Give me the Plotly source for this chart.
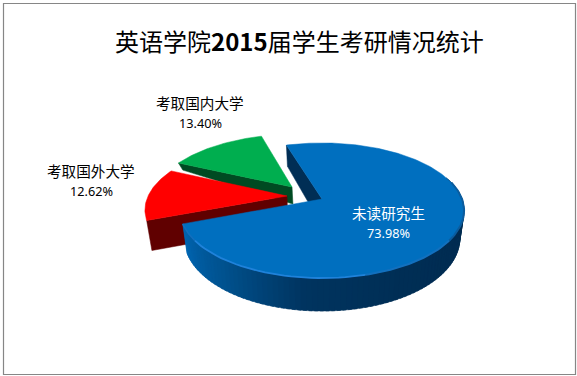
import math
import plotly.graph_objects as go

TITLE_TEXT = "英语学院<b>2015</b>届学生考研情况统计"
categories = ["未读研究生", "考取国外大学", "考取国内大学"]
values = [73.98, 12.62, 13.40]

FIRST_ANGLE = 342.8
CX, CY, RX, KY, P = 322.0, 199.0, 140.0, 65.6, 0.17
TILT_X = 0.97
offsets = [(0.0, 0.0), (-0.252, -0.046), (-0.221, -0.189)]
depth_fn = [(27.0, 6.0), (30.0, 0.0), (21.6, 24.0)]
top_colors = ["#006FBF", "#FF0000", "#00AE4F"]
side_colors = ["#002E55", "#600000", "#004A22"]
CJK = "Noto Sans CJK SC"
LATIN = "Noto Sans"

total = sum(values)
starts, sweeps = [], []
a = FIRST_ANGLE
for v in values:
    starts.append(a)
    sweeps.append(v / total * 360)
    a += v / total * 360


def top_pt(i, X, Y):
    ox, oy = offsets[i]
    X, Y = X + ox, Y + oy
    s = 1 / (1 - P * Y)
    return CX + RX * X * s, CY + KY * Y * s


def rim(i, deg):
    t = math.radians(deg)
    return math.sin(t), -math.cos(t)


def bottom_pt(i, X, Y):
    x, y = top_pt(i, X, Y)
    a0, b0 = depth_fn[i]
    return CX + (x - CX) * TILT_X, y + a0 + b0 * (Y + offsets[i][1])


def mix(c1, c2, f):
    c = [round(c1[k] + (c2[k] - c1[k]) * f) for k in range(3)]
    return f"rgb({c[0]},{c[1]},{c[2]})"


fig = go.Figure()


def poly(pts, color):
    xs = [p[0] for p in pts] + [pts[0][0]]
    ys = [p[1] for p in pts] + [pts[0][1]]
    fig.add_trace(go.Scatter(x=xs, y=ys, mode="lines", fill="toself", fillcolor=color,
                             line=dict(color=color, width=0.5), hoverinfo="skip", showlegend=False))


def top_face(i):
    n = max(8, int(sweeps[i]))
    pts = [top_pt(i, 0, 0)]
    for k in range(n + 1):
        pts.append(top_pt(i, *rim(i, starts[i] + sweeps[i] * k / n)))
    poly(pts, top_colors[i])


def radial_wall(i, deg):
    X, Y = rim(i, deg)
    poly([top_pt(i, 0, 0), top_pt(i, X, Y), bottom_pt(i, X, Y), bottom_pt(i, 0, 0)], side_colors[i])


# green, red
radial_wall(2, starts[2])
top_face(2)
radial_wall(1, starts[1])
top_face(1)

# blue: inner wall, outer gradient wall, top
radial_wall(0, starts[0])
end_blue = (starts[0] + sweeps[0]) % 360
gradient_stops = [(70, (0, 42, 78)), (150, (0, 46, 85)), (185, (0, 52, 95)), (215, (0, 80, 140)), (end_blue, (0, 103, 180))]
N = 90
d0 = 70.0
for k in range(N):
    t0 = d0 + (end_blue - d0) * k / N
    t1 = d0 + (end_blue - d0) * (k + 1.6) / N
    t1 = min(t1, end_blue)
    for j in range(len(gradient_stops) - 1):
        if gradient_stops[j][0] <= t0 <= gradient_stops[j + 1][0]:
            g0, c0 = gradient_stops[j]
            g1, c1 = gradient_stops[j + 1]
            col = mix(c0, c1, (t0 - g0) / (g1 - g0))
            break
    p0, p1 = rim(0, t0), rim(0, t1)
    poly([top_pt(0, *p0), top_pt(0, *p1), bottom_pt(0, *p1), bottom_pt(0, *p0)], col)
top_face(0)

# bevel highlight along blue front rim
for t0, t1, col, w in [(75, 125, "#0B5C9E", 2.0), (125, 165, "#1270BE", 2.0), (165, 235, "#1F82DA", 1.8), (235, end_blue, "#126FBE", 1.5)]:
    n = 30
    pts = [top_pt(0, *rim(0, t0 + (t1 - t0) * k / n)) for k in range(n + 1)]
    fig.add_trace(go.Scatter(x=[p[0] for p in pts], y=[p[1] for p in pts], mode="lines",
                             line=dict(color=col, width=w), hoverinfo="skip", showlegend=False))

anns = [(388, 212, 233, "#FFFFFF"), (91, 170, 190.5, "#000000"), (200, 102, 122.5, "#000000")]
for i, (x, y1, y2, col) in enumerate(anns):
    fig.add_annotation(x=x, y=y1, text=categories[i], showarrow=False,
                       font=dict(family=CJK, size=14.6, color=col))
    fig.add_annotation(x=x, y=y2, text=f"{values[i]:.2f}%", showarrow=False,
                       font=dict(family=LATIN, size=12.7, color=col))

fig.add_annotation(x=299.5, y=40, text=TITLE_TEXT, showarrow=False,
                   font=dict(family=CJK, size=24, color="#000000"))

fig.add_shape(type="rect", x0=3.5, y0=3.5, x1=575.5, y1=374.5, line=dict(color="#868686", width=1.2),
              fillcolor="rgba(0,0,0,0)")

fig.update_layout(width=577, height=376, margin=dict(l=0, r=0, t=0, b=0),
                  paper_bgcolor="#FFFFFF", plot_bgcolor="#FFFFFF", showlegend=False,
                  xaxis=dict(range=[0, 577], visible=False, fixedrange=True),
                  yaxis=dict(range=[376, 0], visible=False, fixedrange=True))
fig.write_html("out.html", config=dict(displayModeBar=False), post_script="document.body.style.margin='0';document.body.style.overflow='hidden';")
